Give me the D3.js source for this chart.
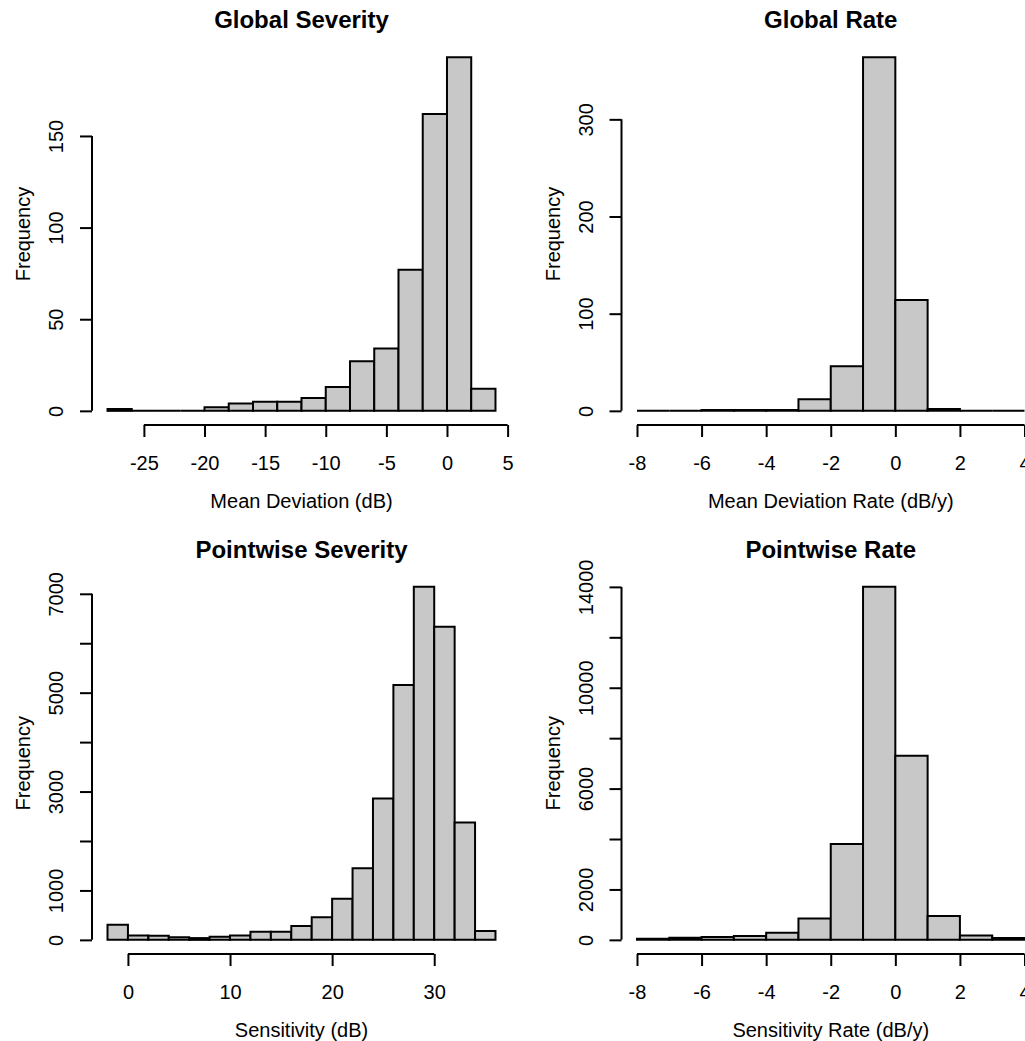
<!DOCTYPE html>
<html>
<head>
<meta charset="utf-8">
<script src="https://cdn.jsdelivr.net/npm/d3@7"></script>
<style>
  body { margin: 0; background: #fff; }
  svg { display: block; }
</style>
</head>
<body>
<div id="chart"></div>
<script>
// histogram counts, one bin per entry
var globalSeverityStart = -28, globalSeverityWidth = 2;
var globalSeverityCounts = [1, 0, 0, 0, 2, 4, 5, 5, 7, 13, 27, 34, 77, 162, 193, 12];
var globalSeverityXTicks = [-25, -20, -15, -10, -5, 0, 5];
var globalSeverityYTicks = [0, 50, 100, 150];

var globalRateStart = -8, globalRateWidth = 1;
var globalRateCounts = [0, 0, 1, 1, 1, 12, 46, 364, 114, 2, 0, 0];
var globalRateXTicks = [-8, -6, -4, -2, 0, 2, 4];
var globalRateYTicks = [0, 100, 200, 300];

var pointSeverityStart = -2, pointSeverityWidth = 2;
var pointSeverityCounts = [304, 87, 85, 51, 36, 65, 87, 166, 166, 282, 456, 832, 1448, 2859, 5154, 7145, 6334, 2374, 181];
var pointSeverityXTicks = [0, 10, 20, 30];
var pointSeverityYTicks = [0, 1000, 2000, 3000, 4000, 5000, 6000, 7000];
var pointSeverityYLabels = [0, 1000, 3000, 5000, 7000];

var pointRateStart = -8, pointRateWidth = 1;
var pointRateCounts = [43, 85, 113, 156, 284, 851, 3801, 14010, 7305, 950, 170, 71];
var pointRateXTicks = [-8, -6, -4, -2, 0, 2, 4];
var pointRateYTicks = [0, 2000, 4000, 6000, 8000, 10000, 12000, 14000];
var pointRateYLabels = [0, 2000, 6000, 10000, 14000];

var W = 1025, H = 1041;
var font = "'Liberation Sans', Arial, Helvetica, sans-serif";
var cols = [{left: 92, right: 511}, {left: 621.5, right: 1040}];
var rows = [{top: 43, bottom: 425}, {top: 572.5, bottom: 954}];

var panels = [
  {title: "Global Severity", xlab: "Mean Deviation (dB)", start: globalSeverityStart, width: globalSeverityWidth,
   counts: globalSeverityCounts, xticks: globalSeverityXTicks, yticks: globalSeverityYTicks, ylabels: globalSeverityYTicks, col: 0, row: 0},
  {title: "Global Rate", xlab: "Mean Deviation Rate (dB/y)", start: globalRateStart, width: globalRateWidth,
   counts: globalRateCounts, xticks: globalRateXTicks, yticks: globalRateYTicks, ylabels: globalRateYTicks, col: 1, row: 0},
  {title: "Pointwise Severity", xlab: "Sensitivity (dB)", start: pointSeverityStart, width: pointSeverityWidth,
   counts: pointSeverityCounts, xticks: pointSeverityXTicks, yticks: pointSeverityYTicks, ylabels: pointSeverityYLabels, col: 0, row: 1},
  {title: "Pointwise Rate", xlab: "Sensitivity Rate (dB/y)", start: pointRateStart, width: pointRateWidth,
   counts: pointRateCounts, xticks: pointRateXTicks, yticks: pointRateYTicks, ylabels: pointRateYLabels, col: 1, row: 1}
];

// plain hyphen for negatives, like the R output
function plain(v) { return String(v); }

var svg = d3.select("#chart").append("svg")
    .attr("width", W)
    .attr("height", H)
    .style("font-family", font);

panels.forEach(function (p) {
    var c = cols[p.col], r = rows[p.row];
    var lo = p.start, hi = p.start + p.counts.length * p.width;
    var ext = 0.04 * (hi - lo);
    var ymax = d3.max(p.counts);

    var x = d3.scaleLinear().domain([lo - ext, hi + ext]).range([c.left, c.right]);
    var y = d3.scaleLinear().domain([-0.04 * ymax, 1.04 * ymax]).range([r.bottom, r.top]);

    var g = svg.append("g");

    // bars as paths so empty bins still show as a line on the baseline
    g.selectAll("path.bar")
        .data(p.counts)
        .enter().append("path")
        .attr("class", "bar")
        .attr("d", function (d, i) {
            var x0 = x(lo + i * p.width), x1 = x(lo + (i + 1) * p.width);
            return "M" + x0 + "," + y(0) + "V" + y(d) + "H" + x1 + "V" + y(0) + "Z";
        })
        .attr("fill", "#c8c8c8")
        .attr("stroke", "#000")
        .attr("stroke-width", 2)
        .attr("stroke-linejoin", "miter");

    // x axis
    var xa = g.append("g")
        .attr("transform", "translate(0," + r.bottom + ")")
        .call(d3.axisBottom(x).tickValues(p.xticks).tickSize(12).tickPadding(18.8).tickFormat(plain));
    xa.select(".domain").remove();
    xa.append("line")
        .attr("x1", x(p.xticks[0])).attr("x2", x(p.xticks[p.xticks.length - 1]))
        .attr("stroke", "#000").attr("stroke-width", 2);
    xa.selectAll(".tick line").attr("stroke-width", 2);
    xa.selectAll("text").attr("font-size", 20).attr("font-family", font).attr("fill", "#000");
    xa.attr("font-family", null).attr("font-size", null);

    // y axis, labels parallel to the axis
    var ya = g.append("g")
        .attr("transform", "translate(" + c.left + ",0)")
        .call(d3.axisLeft(y).tickValues(p.yticks).tickSize(12)
            .tickFormat(function (v) { return p.ylabels.indexOf(v) >= 0 ? String(v) : ""; }));
    ya.select(".domain").remove();
    ya.append("line")
        .attr("y1", y(p.yticks[0])).attr("y2", y(p.yticks[p.yticks.length - 1]))
        .attr("stroke", "#000").attr("stroke-width", 2);
    ya.selectAll(".tick line").attr("stroke-width", 2);
    ya.selectAll("text")
        .attr("x", null).attr("dy", null)
        .attr("transform", "translate(-29,0) rotate(-90)")
        .attr("text-anchor", "middle")
        .attr("font-size", 20).attr("font-family", font).attr("fill", "#000");
    ya.attr("font-family", null).attr("font-size", null);

    var cx = (c.left + c.right) / 2, cy = (r.top + r.bottom) / 2;

    g.append("text")
        .attr("x", cx).attr("y", r.top - 15)
        .attr("text-anchor", "middle")
        .attr("font-size", 24).attr("font-weight", "bold")
        .text(p.title);

    g.append("text")
        .attr("x", cx).attr("y", r.bottom + 83)
        .attr("text-anchor", "middle")
        .attr("font-size", 20)
        .text(p.xlab);

    g.append("text")
        .attr("transform", "translate(" + (c.left - 62) + "," + cy + ") rotate(-90)")
        .attr("text-anchor", "middle")
        .attr("font-size", 20)
        .text("Frequency");
});
</script>
</body>
</html>
